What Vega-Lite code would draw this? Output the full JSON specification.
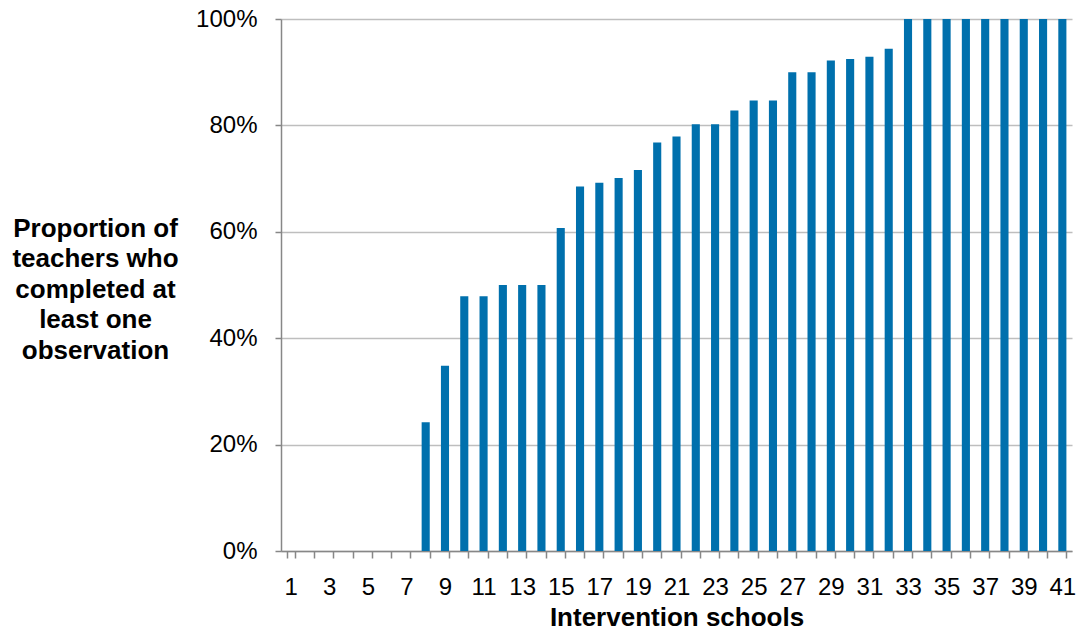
{
  "$schema": "https://vega.github.io/schema/vega-lite/v6.json",
  "width": 791,
  "height": 532,
  "autosize": {"type": "none"},
  "padding": {"left": 281, "top": 19, "right": 9, "bottom": 85},
  "background": "white",
  "config": {"view": {"stroke": null}, "font": "Liberation Sans"},
  "data": {
    "values": [
      {"school": 1, "value": 0}, {"school": 2, "value": 0}, {"school": 3, "value": 0},
      {"school": 4, "value": 0}, {"school": 5, "value": 0}, {"school": 6, "value": 0},
      {"school": 7, "value": 0}, {"school": 8, "value": 0.242}, {"school": 9, "value": 0.348},
      {"school": 10, "value": 0.479}, {"school": 11, "value": 0.479}, {"school": 12, "value": 0.5},
      {"school": 13, "value": 0.5}, {"school": 14, "value": 0.5}, {"school": 15, "value": 0.607},
      {"school": 16, "value": 0.685}, {"school": 17, "value": 0.692}, {"school": 18, "value": 0.701},
      {"school": 19, "value": 0.716}, {"school": 20, "value": 0.768}, {"school": 21, "value": 0.779},
      {"school": 22, "value": 0.802}, {"school": 23, "value": 0.802}, {"school": 24, "value": 0.828},
      {"school": 25, "value": 0.847}, {"school": 26, "value": 0.847}, {"school": 27, "value": 0.9},
      {"school": 28, "value": 0.9}, {"school": 29, "value": 0.922}, {"school": 30, "value": 0.925},
      {"school": 31, "value": 0.929}, {"school": 32, "value": 0.944}, {"school": 33, "value": 1},
      {"school": 34, "value": 1}, {"school": 35, "value": 1}, {"school": 36, "value": 1},
      {"school": 37, "value": 1}, {"school": 38, "value": 1}, {"school": 39, "value": 1},
      {"school": 40, "value": 1}, {"school": 41, "value": 1}
    ]
  },
  "mark": {"type": "bar", "color": "#0070ad"},
  "encoding": {
    "x": {
      "field": "school",
      "type": "ordinal",
      "sort": "ascending",
      "scale": {"paddingInner": 0.58, "paddingOuter": 0.29},
      "axis": {
        "title": "Intervention schools",
        "labelAngle": 0,
        "labelExpr": "datum.value % 2 == 1 ? datum.label : ''",
        "labelOverlap": false,
        "tickBand": "extent",
        "grid": false,
        "domainColor": "#878787",
        "domainWidth": 1.5,
        "tickColor": "#878787",
        "tickWidth": 1.5,
        "tickSize": 7,
        "labelFontSize": 24,
        "labelColor": "#000000",
        "labelPadding": 17,
        "titleFontSize": 26,
        "titleFontWeight": "bold",
        "titleColor": "#000000",
        "titleBaseline": "alphabetic",
        "titleY": 74
      }
    },
    "y": {
      "field": "value",
      "type": "quantitative",
      "scale": {"domain": [0, 1]},
      "axis": {
        "values": [0, 0.2, 0.4, 0.6, 0.8, 1],
        "format": ".0%",
        "title": ["Proportion of", "teachers who", "completed at", "least one", "observation"],
        "titleAngle": 0,
        "titleAlign": "center",
        "titleBaseline": "middle",
        "titleX": -186,
        "titleY": 209,
        "titleLineHeight": 30.5,
        "titleFontSize": 26,
        "titleFontWeight": "bold",
        "titleColor": "#000000",
        "grid": true,
        "gridColor": "#bebebe",
        "gridWidth": 1.5,
        "domainColor": "#878787",
        "domainWidth": 1.5,
        "tickColor": "#878787",
        "tickWidth": 1.5,
        "tickSize": 6,
        "labelFontSize": 24,
        "labelColor": "#000000",
        "labelPadding": 18
      }
    }
  }
}
